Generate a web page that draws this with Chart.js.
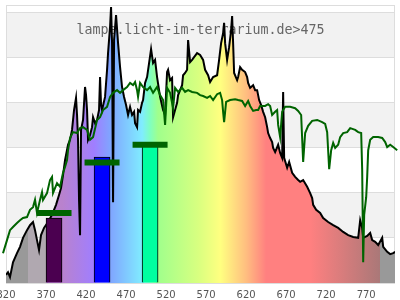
<!DOCTYPE html>
<html>
<head>
<meta charset="utf-8">
<script src="https://cdn.jsdelivr.net/npm/chart.js@4/dist/chart.umd.min.js"></script>
<style>
html, body { margin: 0; padding: 0; background: #fff; }
#wrap { width: 400px; height: 300px; }
</style>
</head>
<body>
<div id="wrap"><canvas id="spectrumChart"></canvas></div>
<script>
// Lampenspektrum (nm / relative Intensität)
const lampNm = [320, 322.5, 325, 328.75, 333.75, 337.5, 341.25, 346.25, 350, 353.75, 356.25, 358.75, 361.25, 363.75, 367.5,
    372.5, 377.5, 382.5, 386.25, 388.75, 391.25, 393.75, 397.5, 400, 402.5, 405, 407.5, 408.75, 410, 411.25, 412.5, 413.75,
    416.25, 418.75, 420, 421.25, 422.5, 425, 427.5, 428.75, 431.25, 433.75, 436.25, 437.5, 438.75, 440, 443.75, 446.25,
    447.5, 450, 451.25, 452.5, 453.75, 455, 457.5, 460, 462.5, 465, 467.5, 470, 472.5, 475, 477.5, 480, 481.25, 483.75,
    485, 487.5, 490, 491.25, 493.75, 496.25, 498.75, 501.25, 503.75, 506.25, 508.75, 512.5, 516.25, 518.75, 521.25, 522.5,
    525, 527.5, 528.75, 531.25, 533.75, 535, 537.5, 540, 541.25, 543.75, 546.25, 547.5, 550, 552.5, 555, 558.75, 562.5,
    566.25, 568.75, 572.5, 575, 578.75, 583.75, 586.25, 588.75, 591.25, 592.5, 593.75, 596.25, 598.75, 601.25, 602.5,
    603.75, 605, 608.75, 610, 612.5, 615, 618.75, 621.25, 622.5, 625, 628.75, 631.25, 633.75, 636.25, 638.75, 641.25,
    643.75, 646.25, 647.5, 650, 652.5, 653.75, 656.25, 660, 662.5, 665, 666.25, 667.5, 671.25, 673.75, 677.5, 681.25,
    685, 687.5, 691.25, 696.25, 700, 702.5, 703.75, 707.5, 712.5, 716.25, 722.5, 728.75, 735, 741.25, 747.5, 753.75,
    760, 762.5, 765, 766.25, 771.25, 775, 777.5, 781.25, 785, 790, 791.25, 796.25, 800, 803.75, 806.25];
const lampVal = [0.18, 0.24, 0.13, 0.46, 0.66, 0.80, 1.00, 1.17, 1.28, 1.35, 1.17, 0.95, 0.73, 1.06, 1.22,
    1.35, 1.51, 1.73, 1.95, 2.10, 2.39, 2.72, 3.06, 3.17, 3.39, 3.83, 4.10, 3.72, 3.17, 1.84, 1.06, 3.39,
    3.61, 4.34, 4.16, 3.83, 3.17, 3.28, 3.45, 3.67, 3.54, 3.61, 3.83, 4.56, 3.94, 3.83, 4.12, 4.72,
    5.09, 5.67, 6.11, 5.31, 1.79, 5.38, 5.93, 5.31, 4.78, 4.34, 4.12, 3.94, 3.72, 3.90, 3.72, 3.79, 3.54, 3.45,
    3.83, 3.79, 3.99, 4.05, 4.43, 4.56, 4.87, 5.18, 4.87, 4.94, 4.56, 4.12, 3.83, 3.72, 4.67, 4.72,
    4.49, 4.54, 3.67, 3.83, 3.99, 4.16, 4.27, 4.38, 4.60, 4.65, 4.72, 5.38, 4.89, 4.94, 5.00, 5.09, 5.05,
    4.94, 4.72, 4.60, 4.45, 4.56, 4.60, 4.94, 5.31, 5.53, 5.76, 5.31, 4.94, 5.22, 5.60, 5.91,
    5.31, 4.65, 4.49, 4.56, 4.78, 4.72, 4.67, 4.56, 4.43, 4.32, 4.38, 4.27, 4.27, 4.05, 3.94, 3.79,
    3.67, 3.45, 3.32, 3.21, 3.12, 2.99, 2.90, 3.06, 2.88, 2.77, 4.23, 2.77, 2.55, 2.68, 2.44, 2.35,
    2.28, 2.24, 2.28, 2.13, 1.99, 1.88, 1.73, 1.62, 1.55, 1.44, 1.35, 1.28, 1.22, 1.13, 1.06, 1.02,
    1.00, 1.39, 1.22, 1.00, 1.04, 1.11, 0.95, 0.91, 0.84, 1.00, 0.80, 0.69, 0.64, 0.66, 0.69];

// Vergleichsspektrum (grün)
const sunNm = [312.5, 316.25, 321.25, 325, 328.75, 333.75, 337.5, 341.25, 346.25, 350, 353.75, 356.25, 358.75, 362.5,
    365, 366.25, 371.25, 375, 377.5, 378.75, 383.75, 387.5, 391.25, 393.75, 396.25, 397.5, 400, 403.75, 408.75, 412.5,
    416.25, 421.25, 425, 428.75, 433.75, 437.5, 441.25, 446.25, 450, 453.75, 458.75, 462.5, 466.25, 471.25, 475, 478.75,
    481.25, 483.75, 485, 487.5, 491.25, 496.25, 500, 503.75, 508.75, 512.5, 516.25, 518.75, 521.25, 525, 528.75, 531.25,
    535, 540, 543.75, 547.5, 552.5, 558.75, 562.5, 566.25, 571.25, 575, 578.75, 583.75, 587.5, 590, 591.25, 592.5, 595,
    600, 606.25, 610, 615, 618.75, 622.5, 625, 628.75, 632.5, 635, 637.5, 643.75, 647.5, 650, 652.5, 656.25, 658.75,
    660, 662.5, 665, 668.75, 675, 681.25, 685, 688.75, 691.25, 693.75, 697.5, 702.5, 708.75, 715, 718.75, 721.25,
    723.75, 726.25, 728.75, 731.25, 735, 737.5, 741.25, 746.25, 750, 756.25, 760, 763.75, 765, 766.25, 767.5, 770,
    771.25, 772.5, 775, 778.75, 785, 790, 793.75, 796.25, 800, 803.75, 808.75, 811.25];
const sunVal = [0.33, 0.66, 0.95, 1.17, 1.24, 1.33, 1.39, 1.44, 1.46, 1.62, 1.68, 1.84, 1.55, 1.84,
    2.01, 1.84, 1.99, 2.28, 2.35, 1.99, 2.21, 2.13, 2.44, 2.57, 2.72, 2.94, 3.21, 3.34, 3.32, 3.43,
    3.45, 3.39, 3.17, 3.23, 3.61, 3.67, 3.83, 3.90, 4.12, 4.21, 4.27, 4.21, 4.27, 4.34, 4.43, 4.38,
    4.45, 4.27, 4.12, 4.43, 4.34, 4.27, 4.34, 4.21, 4.34, 4.16, 4.05, 3.50, 4.32, 4.21, 3.87, 4.32,
    4.23, 4.32, 4.23, 4.27, 4.23, 4.21, 4.16, 4.14, 4.10, 4.14, 4.05, 4.18, 4.21, 4.05, 3.79, 3.56, 4.01,
    4.05, 4.07, 4.05, 4.03, 3.92, 4.03, 3.92, 3.81, 3.83, 3.83, 3.92, 3.92, 3.96, 3.92, 3.72, 3.79, 3.83,
    3.50, 3.23, 3.79, 3.90, 3.90, 3.87, 3.81, 3.72, 2.68, 3.32, 3.48, 3.59, 3.61, 3.56, 3.52, 3.34,
    2.52, 2.94, 3.10, 2.99, 3.06, 3.23, 3.32, 3.34, 3.43, 3.39, 3.34, 3.32, 2.50, 0.46, 1.51, 1.90,
    2.35, 2.94, 3.17, 3.23, 3.23, 3.21, 3.12, 3.01, 3.06, 3.01, 2.94, 2.90];

// Balken und Markierungen
const barNm = [380, 440, 500];
const barVal = [1.44, 2.79, 3.08];
const capVal = [1.55, 2.67, 3.06];
const barColors = ['#4b0050', '#0000ff', '#00ffa0'];

const tickNm = [320, 370, 420, 470, 520, 570, 620, 670, 720, 770];
const gridVal = [0, 1, 2, 3, 4, 5, 6];
const chartTitle = 'lampe.licht-im-terrarium.de>475';

// Farbverlauf unter der Lampenkurve
const spectrumStops = [
    [320, '#999999'], [347.5, '#999999'], [347.5, '#b0a8b0'], [370, '#b0a8b0'], [370, '#b882d2'],
    [390, '#b982cd'], [430, '#a07eff'], [450, '#80a4ff'], [490, '#80ecff'], [500, '#80ffc0'],
    [510, '#a0ff8c'], [560, '#d8ff80'], [588, '#ffff80'], [620, '#ffbe80'], [645, '#ff8080'],
    [700, '#ff8080'], [787, '#aa7878'], [787.5, '#999999'], [812, '#999999']
];

function spectrumFill(context) {
    const chart = context.chart;
    const { chartArea, scales } = chart;
    if (!chartArea) return null;
    const x0 = scales.x.getPixelForValue(spectrumStops[0][0]);
    const x1 = scales.x.getPixelForValue(spectrumStops[spectrumStops.length - 1][0]);
    const g = chart.ctx.createLinearGradient(x0, 0, x1, 0);
    spectrumStops.forEach(([nm, c]) => {
        const t = (scales.x.getPixelForValue(nm) - x0) / (x1 - x0);
        g.addColorStop(Math.min(1, Math.max(0, t)), c);
    });
    return g;
}

// Hintergrundstreifen, Rahmen und Titel
const framePlugin = {
    id: 'framePlugin',
    beforeDraw(chart) {
        const { ctx, chartArea: a, scales: { y } } = chart;
        ctx.save();
        ctx.fillStyle = '#f2f2f2';
        for (let v = 1; v < 6; v += 2) {
            const top = y.getPixelForValue(v + 1);
            const bottom = y.getPixelForValue(v);
            ctx.fillRect(a.left, top, a.right - a.left, bottom - top);
        }
        ctx.restore();
    },
    beforeDatasetsDraw(chart) {
        const { ctx, chartArea: a } = chart;
        ctx.save();
        ctx.strokeStyle = '#dddddd';
        ctx.lineWidth = 1;
        ctx.strokeRect(Math.round(a.left) + 0.5, Math.round(a.top) + 0.5,
            Math.round(a.right - a.left) - 1, Math.round(a.bottom - a.top) - 1);
        ctx.font = '13.3px "DejaVu Sans Mono"';
        ctx.fillStyle = '#666666';
        ctx.textAlign = 'center';
        ctx.textBaseline = 'middle';
        ctx.fillText(chartTitle, (a.left + a.right) / 2, a.top + 26);
        ctx.restore();
    }
};

document.addEventListener('DOMContentLoaded', function() {
    const ctx = document.getElementById('spectrumChart').getContext('2d');
    new Chart(ctx, {
        type: 'line',
        data: {
            datasets: [
                {
                    label: 'Lampe',
                    data: lampNm.map((nm, i) => ({ x: nm, y: lampVal[i] })),
                    borderColor: '#000000',
                    borderWidth: 2,
                    backgroundColor: spectrumFill,
                    fill: 'origin',
                    pointRadius: 0,
                    tension: 0,
                    order: 4
                },
                {
                    type: 'bar',
                    label: 'Balken',
                    data: barNm.map((nm, i) => ({ x: nm, y: barVal[i] })),
                    backgroundColor: barColors,
                    borderColor: '#000000',
                    borderWidth: 1,
                    borderSkipped: 'bottom',
                    barThickness: 16,
                    order: 3
                },
                {
                    label: 'Referenz',
                    data: sunNm.map((nm, i) => ({ x: nm, y: sunVal[i] })),
                    borderColor: '#006400',
                    borderWidth: 2,
                    fill: false,
                    pointRadius: 0,
                    tension: 0,
                    clip: false,
                    order: 2
                },
                {
                    type: 'scatter',
                    label: 'Marken',
                    data: barNm.map((nm, i) => ({ x: nm, y: capVal[i] })),
                    pointStyle: 'line',
                    pointRadius: 17.5,
                    pointBorderWidth: 6,
                    pointBorderColor: '#006400',
                    borderColor: '#006400',
                    order: 1
                }
            ]
        },
        options: {
            responsive: true,
            maintainAspectRatio: false,
            animation: false,
            events: [],
            layout: { autoPadding: false, padding: { left: 6, right: 5, top: 5, bottom: 0 } },
            plugins: {
                legend: { display: false },
                tooltip: { enabled: false }
            },
            scales: {
                x: {
                    type: 'linear',
                    min: 320,
                    max: 806,
                    offset: false,
                    afterBuildTicks: axis => { axis.ticks = tickNm.map(v => ({ value: v })); },
                    afterFit: axis => {
                        // Beschriftung darf links abgeschnitten werden
                        axis.height = 17;
                        axis.paddingLeft = 0;
                        axis.paddingRight = 0;
                    },
                    grid: { display: false, drawTicks: false, offset: false },
                    border: { display: false },
                    ticks: {
                        padding: 7,
                        maxRotation: 0,
                        autoSkip: false,
                        color: '#555555',
                        font: { family: 'DejaVu Sans', size: 10, lineHeight: 1 }
                    }
                },
                y: {
                    min: 0,
                    max: 6.155,
                    afterBuildTicks: axis => { axis.ticks = gridVal.map(v => ({ value: v })); },
                    grid: { color: '#dddddd', drawTicks: false },
                    border: { color: '#dddddd' },
                    ticks: { display: false }
                }
            }
        },
        plugins: [framePlugin]
    });
});
</script>
</body>
</html>
